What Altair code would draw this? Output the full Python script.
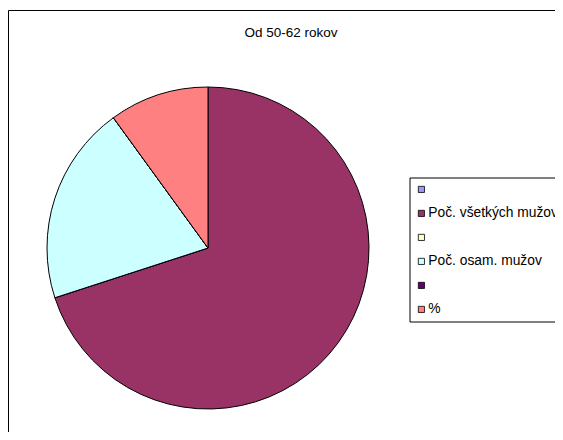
import altair as alt
import pandas as pd

title_text = "Od 50-62 rokov"
categories = [" ", "Poč. všetkých mužov", "  ", "Poč. osam. mužov", "   ", "%"]
values = [0, 70, 0, 20, 0, 10]
colors = ["#9999FF", "#993366", "#FFFFCC", "#CCFFFF", "#660066", "#FF8080"]

df = pd.DataFrame({"cat": categories, "value": values, "idx": list(range(len(categories)))})

pie = alt.Chart(df).mark_arc(radius=161, stroke="black", strokeWidth=1).encode(
    theta=alt.Theta("value:Q", stack=True),
    color=alt.Color(
        "cat:N",
        scale=alt.Scale(domain=categories, range=colors),
        sort=categories,
        legend=alt.Legend(
            title=None,
            orient="none",
            legendX=401.5,
            legendY=167.5,
            strokeColor="black",
            fillColor="white",
            padding=5,
            symbolType="square",
            symbolSize=38,
            symbolStrokeColor="black",
            symbolStrokeWidth=0.8,
            labelFont="Liberation Sans",
            labelFontSize=13.8,
            labelColor="black",
            labelOffset=0,
            rowPadding=9,
            labelLimit=400,
        ),
    ),
    order=alt.Order("idx:Q"),
    x=alt.value(200),
    y=alt.value(238),
)

frame = alt.Chart(pd.DataFrame({"f": [1]})).mark_rect(
    fill=None, fillOpacity=0, stroke="black", strokeWidth=1
).encode(
    x=alt.value(0.5), x2=alt.value(900), y=alt.value(0.5), y2=alt.value(900)
)

title = alt.Chart(pd.DataFrame({"t": [title_text]})).mark_text(
    font="Liberation Sans", fontSize=13.5, color="black", baseline="middle", align="center"
).encode(
    text="t:N",
    x=alt.value(283),
    y=alt.value(23),
)

chart = alt.layer(frame, pie, title).properties(
    width=547,
    height=422,
    padding={"top": 2, "left": 0, "right": 0, "bottom": 0},
    autosize=alt.AutoSizeParams(type="none"),
).configure_view(stroke=None)

chart.save("out.html", embed_options={"renderer": "svg", "actions": False})
